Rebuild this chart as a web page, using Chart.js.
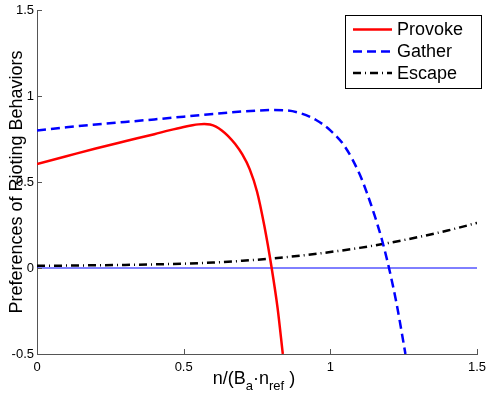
<!DOCTYPE html>
<html>
<head>
<meta charset="utf-8">
<script src="https://cdn.jsdelivr.net/npm/chart.js@4/dist/chart.umd.min.js"></script>
<style>
html,body{margin:0;padding:0;background:#fff;}
#c{display:block;}
</style>
</head>
<body>
<canvas id="c" width="487" height="397"></canvas>
<script>
// ---- Data ----
const provokeX = [0, 0.1, 0.2, 0.3, 0.4, 0.45, 0.5, 0.53, 0.55, 0.57, 0.59, 0.61, 0.63, 0.65, 0.675, 0.7, 0.725, 0.75, 0.775, 0.8, 0.82, 0.838];
const provokeY = [0.605, 0.65, 0.695, 0.737, 0.778, 0.8, 0.82, 0.83, 0.835, 0.837, 0.834, 0.822, 0.80, 0.77, 0.722, 0.66, 0.575, 0.445, 0.245, 0.0, -0.23, -0.5];

const gatherX = [0, 0.1, 0.2, 0.3, 0.4, 0.5, 0.6, 0.7, 0.8, 0.85, 0.9, 0.95, 1.0, 1.05, 1.1, 1.125, 1.15, 1.175, 1.2, 1.225, 1.25, 1.256];
const gatherY = [0.80, 0.818, 0.834, 0.849, 0.864, 0.880, 0.896, 0.910, 0.918, 0.916, 0.899, 0.862, 0.80, 0.705, 0.545, 0.435, 0.31, 0.17, 0.0, -0.2, -0.44, -0.5];

const escapeX = [0, 0.1, 0.2, 0.3, 0.4, 0.5, 0.6, 0.7, 0.8, 0.9, 1.0, 1.1, 1.2, 1.3, 1.4, 1.5];
const escapeY = [0.013, 0.014, 0.016, 0.018, 0.021, 0.025, 0.032, 0.042, 0.055, 0.072, 0.093, 0.117, 0.146, 0.180, 0.218, 0.262];

const zeroX = [0, 1.5];
const zeroY = [0, 0];

const seriesLabels = ['Provoke', 'Gather', 'Escape'];
const xTicks = [0, 0.5, 1, 1.5];
const yTicks = [-0.5, 0, 0.5, 1, 1.5];

const yTitle = 'Preferences of Rioting Behaviors';

function pts(xs, ys){ return xs.map((x,i)=>({x:x, y:ys[i]})); }

const AXIS_COLOR = '#555';
const FONT = '"Liberation Sans", Arial, Helvetica, sans-serif';

// inward ticks
const inwardTicks = {
  id:'inwardTicks',
  afterDraw(chart){
    const ctx = chart.ctx, xs = chart.scales.x, ys = chart.scales.y;
    const a = chart.chartArea;
    ctx.save();
    ctx.strokeStyle = AXIS_COLOR; ctx.lineWidth = 1;
    ctx.beginPath();
    xTicks.forEach(v=>{ const px = Math.round(xs.getPixelForValue(v))+0.5; ctx.moveTo(px, a.bottom); ctx.lineTo(px, a.bottom-5); });
    yTicks.forEach(v=>{ const py = Math.round(ys.getPixelForValue(v))+0.5; ctx.moveTo(a.left, py); ctx.lineTo(a.left+5, py); });
    ctx.stroke();
    ctx.restore();
  }
};

// axis titles (x title has subscripts)
const axisTitles = {
  id:'axisTitles',
  afterDraw(chart){
    const ctx = chart.ctx, a = chart.chartArea;
    ctx.save();
    ctx.fillStyle = '#000';
    ctx.translate(17, (a.top+a.bottom)/2);
    ctx.rotate(-Math.PI/2);
    ctx.font = '18px ' + FONT;
    ctx.textAlign = 'center'; ctx.textBaseline = 'middle';
    ctx.fillText(yTitle, 0, 0);
    ctx.restore();

    ctx.save();
    ctx.fillStyle = '#000';
    ctx.textBaseline = 'alphabetic'; ctx.textAlign = 'left';
    const parts = [
      {t:'n/(B', f:18, dy:0},
      {t:'a', f:13, dy:6},
      {t:'\u00B7n', f:18, dy:0},
      {t:'ref', f:13, dy:6},
      {t:' )', f:18, dy:0}
    ];
    let w = 0;
    parts.forEach(p=>{ ctx.font = p.f+'px '+FONT; p.w = ctx.measureText(p.t).width; w += p.w; });
    let x = 254 - w/2;
    const base = 384;
    parts.forEach(p=>{ ctx.font = p.f+'px '+FONT; ctx.fillText(p.t, x, base + p.dy); x += p.w; });
    ctx.restore();
  }
};

// legend box inside plot
const boxLegend = {
  id:'boxLegend',
  afterDraw(chart){
    const ctx = chart.ctx;
    const bx = 345.5, by = 15.5, bw = 136, bh = 73;
    ctx.save();
    ctx.fillStyle = '#fff';
    ctx.fillRect(bx, by, bw, bh);
    ctx.strokeStyle = '#000'; ctx.lineWidth = 1;
    ctx.strokeRect(bx, by, bw, bh);
    const rows = [29.5, 51.5, 73];
    ctx.font = '18px ' + FONT;
    ctx.textBaseline = 'middle'; ctx.textAlign = 'left';
    chart.data.datasets.filter(d=>d.label).forEach((d,i)=>{
      const y = rows[i];
      ctx.strokeStyle = d.borderColor; ctx.lineWidth = d.borderWidth;
      ctx.setLineDash(d.borderDash || []);
      ctx.beginPath(); ctx.moveTo(353, y); ctx.lineTo(392, y); ctx.stroke();
      ctx.setLineDash([]);
      ctx.fillStyle = '#000';
      ctx.fillText(d.label, 397, y+1);
    });
    ctx.restore();
  }
};

new Chart(document.getElementById('c'), {
  type:'scatter',
  data:{
    datasets:[
      {label:seriesLabels[0], data:pts(provokeX, provokeY), showLine:true, borderColor:'#ff0000', borderWidth:2.5, pointRadius:0, cubicInterpolationMode:'monotone', fill:false},
      {label:seriesLabels[1], data:pts(gatherX, gatherY), showLine:true, borderColor:'#0000ff', borderWidth:2.5, borderDash:[9,5], pointRadius:0, cubicInterpolationMode:'monotone', fill:false},
      {label:seriesLabels[2], data:pts(escapeX, escapeY), showLine:true, borderColor:'#000000', borderWidth:2.5, borderDash:[8,4,1,4], pointRadius:0, cubicInterpolationMode:'monotone', fill:false},
      {label:'', data:pts(zeroX, zeroY), showLine:true, borderColor:'#0000ff', borderWidth:1, pointRadius:0, fill:false}
    ]
  },
  options:{
    responsive:false,
    animation:false,
    layout:{padding:{top:10, right:10, left:0, bottom:0}},
    plugins:{legend:{display:false}, tooltip:{enabled:false}},
    scales:{
      x:{
        type:'linear', min:0, max:1.5,
        afterBuildTicks(s){ s.ticks = xTicks.map(v=>({value:v})); },
        afterFit(s){ s.height = 43; s.paddingRight = 0; s.paddingLeft = 0; },
        grid:{display:false, drawTicks:false},
        border:{display:true, color:AXIS_COLOR, width:1},
        ticks:{color:'#000', padding:6, font:{size:13, family:FONT}, maxRotation:0, callback:v=>String(v)}
      },
      y:{
        type:'linear', min:-0.5, max:1.5,
        afterBuildTicks(s){ s.ticks = yTicks.map(v=>({value:v})); },
        afterFit(s){ s.width = 37; s.paddingTop = 0; s.paddingBottom = 0; },
        grid:{display:false, drawTicks:false},
        border:{display:true, color:AXIS_COLOR, width:1},
        ticks:{color:'#000', padding:3, font:{size:13, family:FONT}, callback:v=>String(v)}
      }
    }
  },
  plugins:[inwardTicks, axisTitles, boxLegend]
});
</script>
</body>
</html>
